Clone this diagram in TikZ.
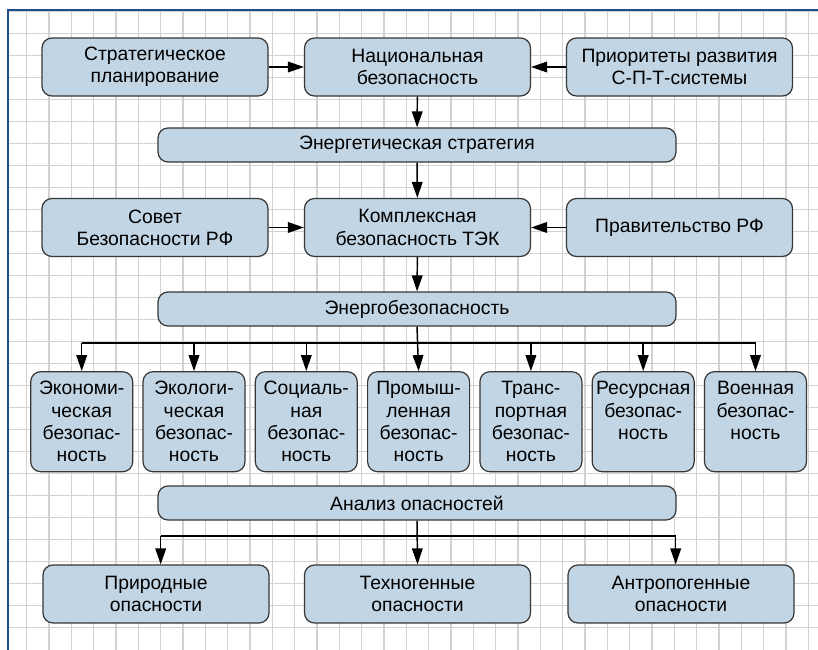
\documentclass[tikz,border=0pt]{standalone}
\usepackage{fontspec}
\setmainfont{Liberation Sans}
\usetikzlibrary{arrows.meta,calc}
\definecolor{boxfill}{RGB}{194,213,228}
\definecolor{boxdraw}{RGB}{55,55,55}
\definecolor{framecol}{RGB}{28,78,140}
\definecolor{gridcol}{RGB}{210,210,210}
\begin{document}
\begin{tikzpicture}[x=0.75pt,y=-0.75pt,
 box/.style={draw=boxdraw, line width=0.9pt, fill=boxfill, rounded corners=7.5pt, align=center, font=\fontsize{14.5}{16.7}\selectfont, inner sep=0pt},
 bigbox/.style={box, minimum width=169.5pt, minimum height=43.5pt},
 bar/.style={box, minimum width=388.5pt, minimum height=25.5pt},
 smallbox/.style={box, minimum width=76.5pt, minimum height=75pt},
 arr/.style={line width=1.1pt, -{Triangle[length=12pt,width=8pt]}},
 ln/.style={line width=1.1pt},
 gridline/.style={draw=gridcol, line width=1pt}]
\useasboundingbox[fill=white] (0,0) rectangle (818,650);
% grid
\begin{scope}
\clip (8,10) rectangle (818,650);
\foreach \i in {0,...,35} \draw[gridline] ({26.7+22.33*\i},10) -- ({26.7+22.33*\i},650);
\foreach \j in {0,...,28} \draw[gridline] (8,{11.3+22*\j}) -- (818,{11.3+22*\j});
\end{scope}
\draw[framecol, line width=1.5pt] (8,650) -- (8,10.3) -- (818,10.3);

% row 1
\node[bigbox] (strat) at (155,67) {Стратегическое\\планирование};
\node[bigbox] (nat) at (417.5,67) {Национальная\\безопасность};
\node[bigbox] (prio) at (679.5,67) {Приоритеты развития\\С-П-Т-системы};
% row 2
\node[bar] (estrat) at (417,145) {Энергетическая стратегия};
% row 3
\node[bigbox] (sovet) at (155,227.5) {Совет\\Безопасности РФ};
\node[bigbox] (kompl) at (417.5,227.5) {Комплексная\\безопасность ТЭК};
\node[bigbox] (prav) at (679.5,227.5) {Правительство РФ};
% row 4
\node[bar] (ebez) at (417,309) {Энергобезопасность};
% row 5
\node[smallbox] (b1) at (81.7,421.7) {Экономи-\\ческая\\безопас-\\ность};
\node[smallbox] (b2) at (194,421.7) {Экологи-\\ческая\\безопас-\\ность};
\node[smallbox] (b3) at (306.3,421.7) {Социаль-\\ная\\безопас-\\ность};
\node[smallbox] (b4) at (418.6,421.7) {Промыш-\\ленная\\безопас-\\ность};
\node[smallbox] (b5) at (530.9,421.7) {Транс-\\портная\\безопас-\\ность};
\node[smallbox] (b6) at (643.2,421.7) {Ресурсная\\безопас-\\ность\\\phantom{ность}};
\node[smallbox] (b7) at (755.5,421.7) {Военная\\безопас-\\ность\\\phantom{ность}};
% row 6
\node[bar] (analiz) at (417,503) {Анализ опасностей};
% row 7
\node[bigbox] (prirod) at (156,594) {Природные\\опасности};
\node[bigbox] (techno) at (417.5,594) {Техногенные\\опасности};
\node[bigbox] (antro) at (681,594) {Антропогенные\\опасности};

% connectors
\draw[arr] (strat.east) -- (nat.west);
\draw[arr] (prio.west) -- (nat.east);
\draw[arr] (nat) -- (estrat);
\draw[arr] (estrat) -- (kompl);
\draw[arr] (sovet.east) -- (kompl.west);
\draw[arr] (prav.west) -- (kompl.east);
\draw[arr] (kompl) -- (ebez);
\coordinate (bus) at (0,343);
\draw[arr] (ebez.south) -- (b4.north);
\draw[ln] (b1.north |- bus) -- (b7.north |- bus);
\foreach \b in {b1,b2,b3,b5,b6,b7} \draw[arr] (\b.north |- bus) -- (\b.north);
\coordinate (pL) at (160.7,536);
\coordinate (pR) at (675.7,536);
\draw[arr] (analiz.south) -- (techno.north);
\draw[ln] (pL) -- (pR);
\draw[arr] (pL) -- (pL |- prirod.north);
\draw[arr] (pR) -- (pR |- antro.north);
\end{tikzpicture}
\end{document}
